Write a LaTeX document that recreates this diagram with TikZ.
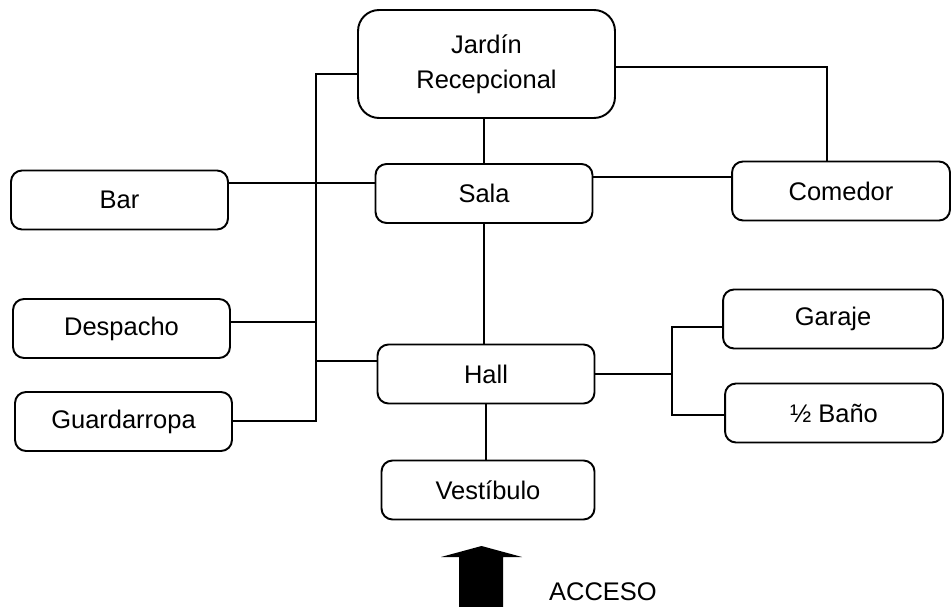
\documentclass[tikz,border=0pt]{standalone}
\usepackage{fontspec}
\setmainfont{Liberation Sans}
\usetikzlibrary{calc}
\usetikzlibrary{positioning}
\tikzstyle{roomnode} = [draw, rectangle, rounded corners=0.22cm, line width=1.1pt, minimum width=4.34cm, minimum height=1.18cm, align=center, font=\fontsize{14.5}{20}\selectfont]
\tikzstyle{bignode} = [roomnode, rounded corners=0.42cm, minimum width=5.14cm, minimum height=2.16cm]
\tikzstyle{link} = [line width=1.1pt]

\begin{document}
\begin{tikzpicture}[x=0.02cm, y=-0.02cm]
\useasboundingbox (0,0) rectangle (952,607);
\node[roomnode] (sala) at (484,193.5) {Sala};
\node[bignode] (jardin) at ($(sala)+(2.5,-129.5)$) {Jardín\\Recepcional};
\node[roomnode] (bar) at ($(sala)+(-364.5,6.5)$) {Bar};
\node[roomnode, minimum width=4.36cm] (comedor) at ($(sala)+(357,-2.5)$) {Comedor};
\node[roomnode] (despacho) at ($(sala)+(-362.5,135)$) {Despacho};
\node[roomnode] (guardarropa) at ($(sala)+(-360.5,228)$) {Guardarropa};
\node[roomnode] (hall) at ($(sala)+(2,180.5)$) {Hall};
\node[roomnode, minimum width=4.4cm] (garaje) at ($(sala)+(349,125.5)$) {Garaje};
\node[roomnode, minimum width=4.36cm] (bano) at ($(sala)+(350,219.5)$) {½ Baño};
\node[roomnode, minimum width=4.26cm] (vestibulo) at ($(sala)+(4,296.5)$) {Vestíbulo};
\node[font=\fontsize{14.5}{20}\selectfont] (acceso) at (603,592) {ACCESO};

\coordinate (bustop) at (316,74);
\coordinate (busbot) at (316,421);
\coordinate (barline) at ($(bar.east)+(0,-17)$);
\coordinate (comline) at ($(sala.east)+(0,-16.5)$);
\coordinate (despline) at ($(despacho.east)+(0,-6.5)$);
\coordinate (hallline) at ($(hall.west)+(0,-13)$);
\coordinate (jcline) at ($(jardin.east)+(0,3)$);
\coordinate (split) at (672,374);

\draw[link] (jardin.west |- bustop) -- (bustop) -- (busbot) -- (guardarropa.east |- busbot);
\draw[link] (barline) -- (barline -| sala.west);
\draw[link] (despline) -- (despline -| bustop);
\draw[link] (hallline -| bustop) -- (hallline);
\draw[link] (comline) -- (comline -| comedor.west);
\draw[link] (jcline) -| ($(comedor.north)+(-14,0)$);
\draw[link] (sala.north) -- (sala.north |- jardin.south);
\draw[link] (sala.south) -- (sala.south |- hall.north);
\draw[link] (hall.south) -- (hall.south |- vestibulo.north);
\draw[link] (hall.east) -- (split);
\draw[link] ($(garaje.west)+(0,8)$) -| (split) |- ($(bano.west)+(0,2)$);

\fill (459,607) -- (459,557) -- (441,557) -- (481.5,546) -- (522,557) -- (503,557) -- (503,607) -- cycle;
\end{tikzpicture}
\end{document}
